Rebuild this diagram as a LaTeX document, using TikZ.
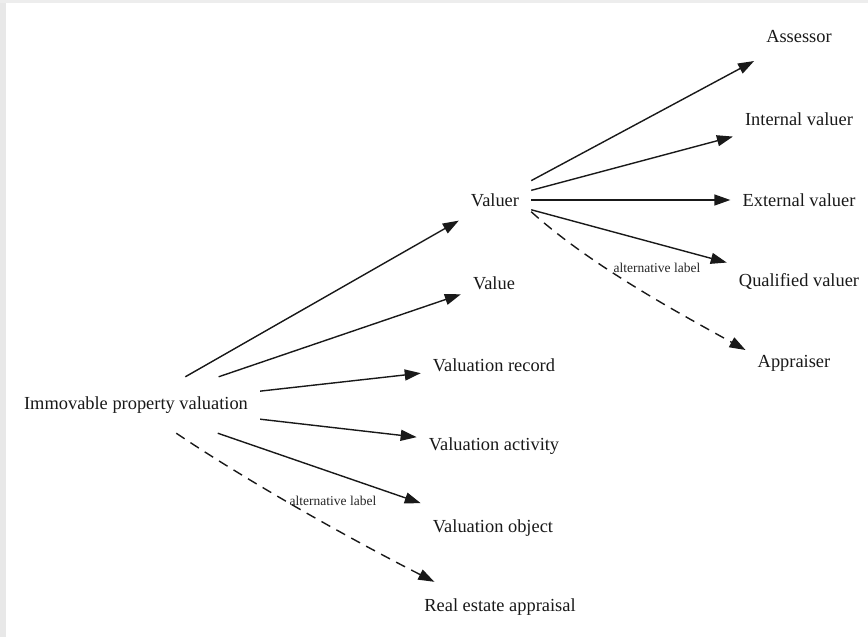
\documentclass[tikz,border=0pt]{standalone}
\usepackage{fontspec}
\setmainfont{Liberation Serif}
\usetikzlibrary{arrows.meta}
\begin{document}
\begin{tikzpicture}[x=1pt,y=-1pt,
  term/.style={rectangle, inner xsep=12pt, inner ysep=0pt, minimum height=50pt,
    font=\fontsize{18.4}{22}\selectfont, text=black!90},
  rootterm/.style={term, minimum height=56pt},
  link/.style={line width=1.4pt, draw=black!90, -{Triangle[length=16pt,width=11pt]}},
  altlink/.style={link, dash pattern=on 10pt off 7pt},
  altlabel/.style={font=\fontsize{13.5}{16}\selectfont, text=black!85, inner sep=1pt}]
\useasboundingbox (0,0) rectangle (868,637);
% page background with its thin grey frame strips
\fill[white] (0,0) rectangle (868,637);
\fill[black!9] (0,0) rectangle (6,637);
\fill[black!7] (0,0) rectangle (868,3);

% terms
\node[rootterm] (root) at (136,405) {Immovable property valuation};
\node[term] (valuer)   at (495,200) {Valuer};
\node[term] (value)    at (494,283) {Value};
\node[term] (record)   at (494,365) {Valuation record};
\node[term] (activity) at (494,446) {Valuation activity};
\node[term] (object)   at (493,528) {Valuation object};
\node[term] (realest)  at (500,607) {Real estate appraisal};
\node[term] (assessor)  at (799,37)  {Assessor};
\node[term] (internal)  at (799,119) {Internal valuer};
\node[term] (external)  at (799,200) {External valuer};
\node[term] (qualified) at (799,282) {Qualified valuer};
\node[term] (appraiser) at (794,363) {Appraiser};

% narrower terms
\draw[link] (root) -- (valuer);
\draw[link] (root) -- (value);
\draw[link] (root) -- (record);
\draw[link] (root) -- (activity);
\draw[link] (root) -- (object);
\draw[link] (valuer) -- (assessor);
\draw[link] (valuer) -- (internal);
\draw[link] (valuer) -- (external);
\draw[link] (valuer) -- (qualified);

% alternative labels (y axis points down, so polar angles run clockwise)
\draw[altlink] (root.-35.7) .. controls +(34:90) and +(-153:90) .. (realest.159.3);
\draw[altlink] (valuer.-18) .. controls +(42:80) and +(-151:80) .. (appraiser.165);
\node[altlabel] (alt1) at (333,501) {alternative label};
\node[altlabel] (alt2) at (657,268) {alternative label};
\end{tikzpicture}
\end{document}
